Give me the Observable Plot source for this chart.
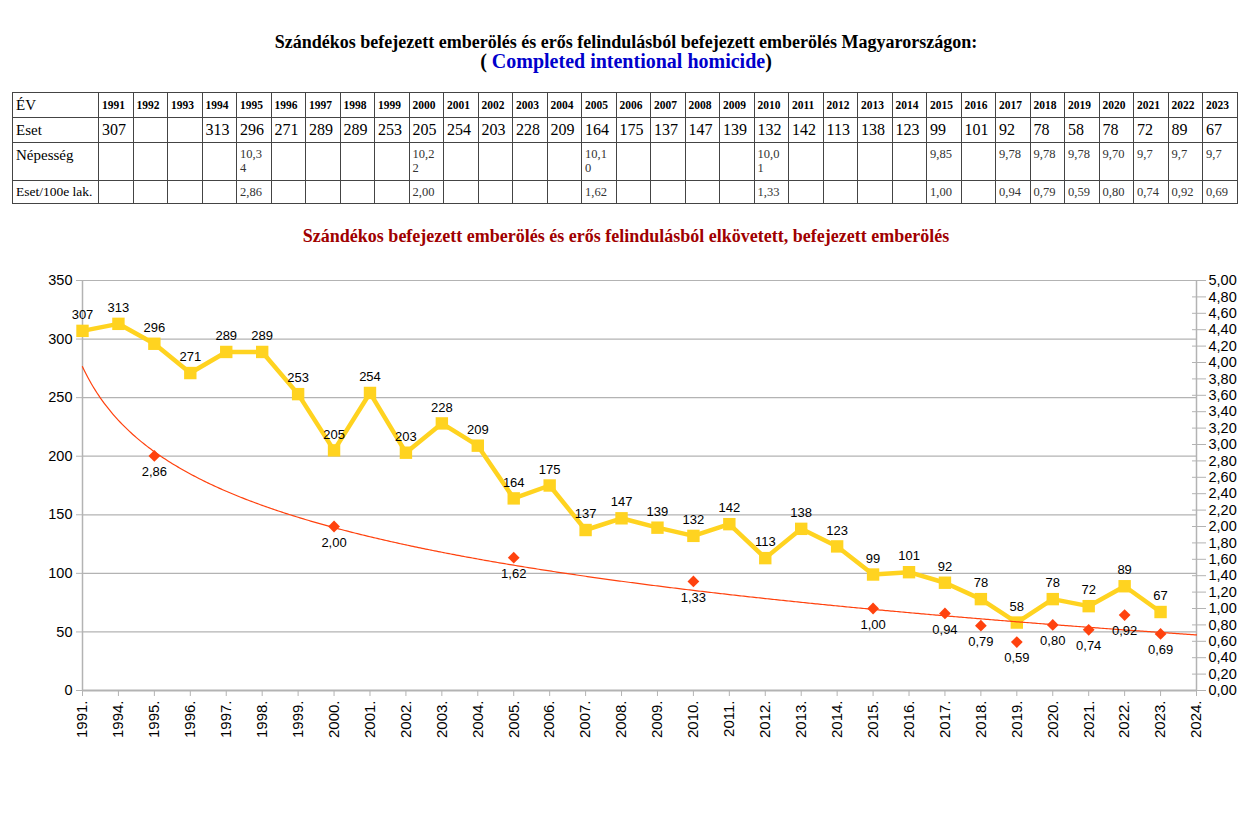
<!DOCTYPE html>
<html><head><meta charset="utf-8">
<script src="https://cdn.jsdelivr.net/npm/d3@7"></script>
<script src="https://cdn.jsdelivr.net/npm/@observablehq/plot@0.6"></script>
<style>
body{margin:0;background:#fff;width:1252px;height:823px;position:relative;overflow:hidden;font-family:"Liberation Serif","Times New Roman",serif;color:#000;}
#t1{position:absolute;top:32px;left:0;width:1252px;text-align:center;font-weight:bold;font-size:18px;line-height:21px;}
#t2{position:absolute;top:50px;left:0;width:1252px;text-align:center;font-weight:bold;font-size:20px;line-height:23px;}
#t2 span{color:#0000cc;}
#tbl{position:absolute;top:92px;left:12px;width:1226px;border-collapse:collapse;table-layout:fixed;}
#tbl td{border:1px solid #444;padding:0 0 0 3px;overflow:hidden;white-space:nowrap;}
#tbl td.lab{font-size:14px;}
#tbl tr.hdr td{height:24px;font-weight:bold;font-size:11.5px;vertical-align:middle;}
#tbl tr.hdr td.lab{font-weight:normal;font-size:15px;}
#tbl tr.es td{height:24px;font-size:16px;vertical-align:middle;}
#tbl tr.es td.lab{font-size:15px;}
#tbl tr.nep td{height:33px;font-size:12.5px;vertical-align:top;padding-top:4px;line-height:14px;color:#333;white-space:normal;word-break:break-all;padding-right:5px;}
#tbl tr.nep td.lab{font-size:15px;color:#000;line-height:17px;padding-top:4px;white-space:nowrap;padding-right:0;}
#tbl tr.rt td{height:22px;font-size:12.5px;vertical-align:middle;color:#333;}
#tbl tr.rt td.lab{font-size:13.5px;color:#000;}
#t3{position:absolute;top:226px;left:0;width:1252px;text-align:center;font-weight:bold;font-size:18px;line-height:21px;color:#a00000;}
#chart{position:absolute;top:250px;left:0;}
</style></head>
<body>
<div id="t1">Szándékos befejezett emberölés és erős felindulásból befejezett emberölés Magyarországon:</div>
<div id="t2">( <span>Completed intentional homicide</span>)</div>
<table id="tbl"></table>
<div id="t3">Szándékos befejezett emberölés és erős felindulásból elkövetett, befejezett emberölés</div>
<div id="chart"></div>
<script>
// ---- table data ----
const tableYears = [1991,1992,1993,1994,1995,1996,1997,1998,1999,2000,2001,2002,2003,2004,2005,2006,2007,2008,2009,2010,2011,2012,2013,2014,2015,2016,2017,2018,2019,2020,2021,2022,2023];
const tableEset = ["307","","","313","296","271","289","289","253","205","254","203","228","209","164","175","137","147","139","132","142","113","138","123","99","101","92","78","58","78","72","89","67"];
const tableNepesseg = ["","","","","10,34","","","","","10,22","","","","","10,10","","","","","10,01","","","","","9,85","","9,78","9,78","9,78","9,70","9,7","9,7","9,7"];
const tableRate = ["","","","","2,86","","","","","2,00","","","","","1,62","","","","","1,33","","","","","1,00","","0,94","0,79","0,59","0,80","0,74","0,92","0,69"];
const rowLabels = ["ÉV","Eset","Népesség","Eset/100e lak."];

// ---- chart data ----
const categories = ["1991.","1994.","1995.","1996.","1997.","1998.","1999.","2000.","2001.","2002.","2003.","2004.","2005.","2006.","2007.","2008.","2009.","2010.","2011.","2012.","2013.","2014.","2015.","2016.","2017.","2018.","2019.","2020.","2021.","2022.","2023.","2024."];
const caseCats = ["1991.","1994.","1995.","1996.","1997.","1998.","1999.","2000.","2001.","2002.","2003.","2004.","2005.","2006.","2007.","2008.","2009.","2010.","2011.","2012.","2013.","2014.","2015.","2016.","2017.","2018.","2019.","2020.","2021.","2022.","2023."];
const cases = [307,313,296,271,289,289,253,205,254,203,228,209,164,175,137,147,139,132,142,113,138,123,99,101,92,78,58,78,72,89,67];
const rateCats = ["1995.","2000.","2005.","2010.","2015.","2017.","2018.","2019.","2020.","2021.","2022.","2023."];
const rates = [2.86,2.00,1.62,1.33,1.00,0.94,0.79,0.59,0.80,0.74,0.92,0.69];
const leftTicks = [0,50,100,150,200,250,300,350];
const rightTicks = [0,0.2,0.4,0.6,0.8,1.0,1.2,1.4,1.6,1.8,2.0,2.2,2.4,2.6,2.8,3.0,3.2,3.4,3.6,3.8,4.0,4.2,4.4,4.6,4.8,5.0];

// ---- build table ----
const tbl = document.getElementById("tbl");
const cg = document.createElement("colgroup");
const c0 = document.createElement("col"); c0.style.width = "86px"; cg.appendChild(c0);
tableYears.forEach(() => cg.appendChild(document.createElement("col")));
tbl.appendChild(cg);
const rows = [["hdr", tableYears.map(String)], ["es", tableEset], ["nep", tableNepesseg], ["rt", tableRate]];
rows.forEach(([cls, vals], r) => {
  const tr = document.createElement("tr"); tr.className = cls;
  const th = document.createElement("td"); th.className = "lab"; th.textContent = rowLabels[r]; tr.appendChild(th);
  vals.forEach(v => { const td = document.createElement("td"); td.textContent = v; tr.appendChild(td); });
  tbl.appendChild(tr);
});

// ---- chart ----
const n = categories.length;
const K = leftTicks[leftTicks.length - 1] / rightTicks[rightTicks.length - 1];
const caseData = cases.map((v, k) => ({i: categories.indexOf(caseCats[k]) + 1, v}));
const rateData = rates.map((r, k) => ({i: categories.indexOf(rateCats[k]) + 1, r}));
// logarithmic trendline fitted to the rate points (as in the original spreadsheet chart)
const lx = rateData.map(d => Math.log(d.i)), ly = rateData.map(d => d.r);
const mx = d3.mean(lx), my = d3.mean(ly);
const b = d3.sum(lx.map((x, k) => (x - mx) * (ly[k] - my))) / d3.sum(lx.map(x => (x - mx) ** 2));
const a = my - b * mx;
const trend = d3.range(1, n + 0.001, 0.05).map(x => ({x, r: a + b * Math.log(x)}));
const fmt = v => v.toFixed(2).replace(".", ",");

const chart = Plot.plot({
  width: 1252, height: 530,
  marginLeft: 82, marginRight: 56, marginTop: 30, marginBottom: 90,
  style: {fontFamily: '"Liberation Sans", Arial, sans-serif', background: "transparent", overflow: "visible"},
  x: {type: "linear", domain: [1, n]},
  y: {domain: [0, 350]},
  marks: [
    Plot.ruleY(leftTicks.slice(1), {stroke: "#b3b3b3", strokeWidth: 1.2}),
    Plot.ruleX([1, n], {stroke: "#b3b3b3", strokeWidth: 1.5}),
    Plot.ruleY([0], {stroke: "#b3b3b3", strokeWidth: 2}),
    Plot.axisY(leftTicks, {anchor: "left", tickSize: 6, tickPadding: 4, fontSize: 14.5, stroke: "#b3b3b3", fill: "#000", label: null}),
    Plot.axisY(rightTicks.map(v => v * K), {anchor: "right", tickSize: 9, tickPadding: 3, fontSize: 14.5, stroke: "#b3b3b3", fill: "#000", label: null, tickFormat: v => fmt(v / K)}),
    Plot.axisY(rightTicks.map(v => v * K), {anchor: "right", tickSize: -5, stroke: "#b3b3b3", label: null, tickFormat: () => ""}),
    Plot.axisX(d3.range(1, n + 1), {anchor: "bottom", tickSize: 6, tickPadding: 4, tickRotate: -90, fontSize: 15, stroke: "#b3b3b3", fill: "#000", label: null, tickFormat: i => categories[i - 1]}),
    Plot.line(caseData, {x: "i", y: "v", stroke: "#ffd320", strokeWidth: 4.5}),
    Plot.dot(caseData, {x: "i", y: "v", symbol: "square", r: 7, fill: "#ffd320", stroke: "none"}),
    Plot.line(trend, {x: "x", y: d => d.r * K, stroke: "#ff420e", strokeWidth: 1.2}),
    Plot.dot(rateData, {x: "i", y: d => d.r * K, symbol: "diamond2", r: 5.3, fill: "#ff420e", stroke: "none"}),
    Plot.text(caseData, {x: "i", y: "v", text: d => String(d.v), dy: -16, fontSize: 13, fill: "#000"}),
    Plot.text(rateData, {x: "i", y: d => d.r * K, text: d => fmt(d.r), dy: 16, fontSize: 13, fill: "#000"})
  ]
});
document.getElementById("chart").appendChild(chart);
</script>
</body></html>
